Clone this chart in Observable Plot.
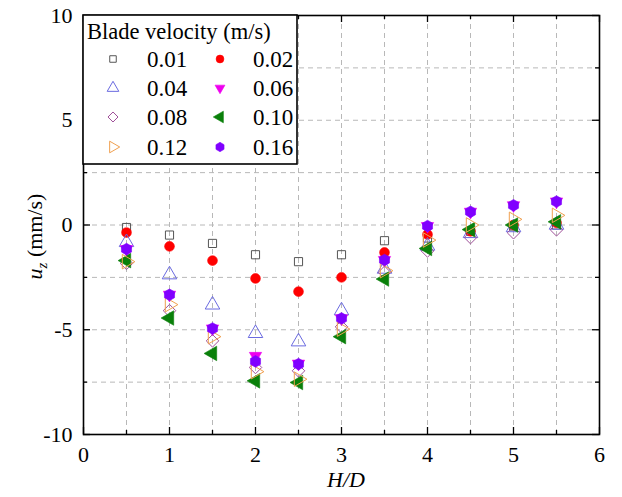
<!DOCTYPE html>
<html>
<head>
<meta charset="utf-8">
<script src="https://cdn.jsdelivr.net/npm/d3@7"></script>
<script src="https://cdn.jsdelivr.net/npm/@observablehq/plot@0.6"></script>
<style>
  body { margin: 0; background: white; }
  #wrap { position: relative; width: 622px; height: 497px; }
  #wrap svg { display: block; }
  #wrap svg text { font-family: "Liberation Serif", "Times New Roman", "DejaVu Serif", serif; }
</style>
</head>
<body>
<div id="wrap"></div>
<script>
// ---- data ----
const hd = [0.5, 1, 1.5, 2, 2.5, 3, 3.5, 4, 4.5, 5, 5.5];
const seriesNames = ["0.01", "0.02", "0.04", "0.06", "0.08", "0.10", "0.12", "0.16"];
const v001 = [-0.12, -0.48, -0.88, -1.42, -1.75, -1.42, -0.75, -0.62, -0.30, -0.05, 0.00];
const v002 = [-0.36, -1.02, -1.70, -2.55, -3.18, -2.50, -1.31, -0.45, -0.30, 0.00, 0.10];
const v004 = [-0.83, -2.37, -3.81, -5.17, -5.57, -4.09, -2.10, -1.00, -0.40, -0.12, 0.00];
const v006 = [-1.15, -3.33, -4.94, -6.25, -6.62, -4.46, -1.67, -0.05, 0.63, 0.94, 1.12];
const v008 = [-1.83, -4.09, -5.53, -6.80, -6.96, -4.86, -2.26, -1.24, -0.60, -0.37, -0.23];
const v010 = [-1.70, -4.44, -6.13, -7.44, -7.52, -5.33, -2.58, -1.12, -0.22, 0.00, 0.15];
const v012 = [-1.75, -3.80, -5.33, -7.00, -7.36, -4.97, -2.18, -0.72, 0.00, 0.27, 0.46];
const v016 = [-1.15, -3.33, -4.94, -6.51, -6.64, -4.46, -1.67, -0.05, 0.63, 0.94, 1.12];
const xTicks = [0, 1, 2, 3, 4, 5, 6];
const yTicks = [-10, -5, 0, 5, 10];
const xGrid = [0.5, 1, 1.5, 2, 2.5, 3, 3.5, 4, 4.5, 5, 5.5];
const yGrid = [-7.5, -5, -2.5, 0, 2.5, 5, 7.5];
const xMinor = [0.5, 1.5, 2.5, 3.5, 4.5, 5.5];
const yMinor = [-7.5, -2.5, 2.5, 7.5];

// ---- custom symbols ----
const sqrt3 = Math.sqrt(3);
const triDown = { draw(c, size) { const y = -Math.sqrt(size / (sqrt3 * 3)); c.moveTo(0, -2 * y); c.lineTo(sqrt3 * y, y); c.lineTo(-sqrt3 * y, y); c.closePath(); } };
const triLeft = { draw(c, size) { const y = -Math.sqrt(size / (sqrt3 * 3)); c.moveTo(2 * y, 0); c.lineTo(-y, sqrt3 * y); c.lineTo(-y, -sqrt3 * y); c.closePath(); } };
const triRight = { draw(c, size) { const y = -Math.sqrt(size / (sqrt3 * 3)); c.moveTo(-2 * y, 0); c.lineTo(y, sqrt3 * y); c.lineTo(y, -sqrt3 * y); c.closePath(); } };
const hexPointy = { draw(c, size) { const rr = Math.sqrt(size / (1.5 * sqrt3)); for (let k = 0; k < 6; k++) { const a = Math.PI / 3 * k; const px = rr * Math.sin(a), py = -rr * Math.cos(a); if (k === 0) c.moveTo(px, py); else c.lineTo(px, py); } c.closePath(); } };
const diamondSq = { draw(c, size) { const h = Math.sqrt(size / 2); c.moveTo(0, -h); c.lineTo(h, 0); c.lineTo(0, h); c.lineTo(-h, 0); c.closePath(); } };
const squareSym = { draw(c, size) { const h = Math.sqrt(size) / 2; c.rect(-h, -h, 2 * h, 2 * h); } };
const circleSym = { draw(c, size) { const rr = Math.sqrt(size / Math.PI); c.moveTo(rr, 0); c.arc(0, 0, rr, 0, 2 * Math.PI); } };
const triUp = { draw(c, size) { const y = -Math.sqrt(size / (sqrt3 * 3)); c.moveTo(0, 2 * y); c.lineTo(-sqrt3 * y, -y); c.lineTo(sqrt3 * y, -y); c.closePath(); } };

const styles = [
  { vals: v001, symbol: squareSym, color: "#555555", filled: false, r: 4.6 },
  { vals: v002, symbol: circleSym, color: "#ff0000", filled: true, r: 4.9 },
  { vals: v004, symbol: triUp, color: "#6a6ae0", filled: false, r: 5.4 },
  { vals: v006, symbol: triDown, color: "#ee00ee", filled: true, r: 4.6 },
  { vals: v008, symbol: diamondSq, color: "#a0509a", filled: false, r: 5.0 },
  { vals: v010, symbol: triLeft, color: "#0a800a", filled: true, r: 5.4 },
  { vals: v012, symbol: triRight, color: "#f0a050", filled: false, r: 5.4 },
  { vals: v016, symbol: hexPointy, color: "#8000ff", filled: true, r: 5.3 }
];

const dotMarks = styles.map((s, i) => Plot.dot(
  hd.map((x, j) => ({ x, y: s.vals[j], series: seriesNames[i] })),
  { x: "x", y: "y", symbol: () => s.symbol, r: s.r,
    fill: s.filled ? s.color : "white", fillOpacity: s.filled ? 1 : 0,
    stroke: s.color, strokeWidth: s.filled ? 0.6 : 1 }
));

const W = 622, H = 497, mL = 83, mR = 23, mT = 15, mB = 63;
const innerH = H - mT - mB, innerW = W - mL - mR;
const serif = "'Liberation Serif', 'Times New Roman', 'DejaVu Serif', serif";

const plot = Plot.plot({
  width: W, height: H,
  marginLeft: mL, marginRight: mR, marginTop: mT, marginBottom: mB,
  style: { fontFamily: serif, fontSize: "22px", color: "black", background: "white", overflow: "visible" },
  x: { domain: [0, 6], label: null },
  y: { domain: [-10, 10], label: null },
  marks: [
    Plot.ruleX(xGrid, { x: d => d, stroke: "#b8b8b8", strokeDasharray: "5,4", strokeWidth: 1 }),
    Plot.ruleY(yGrid, { y: d => d, stroke: "#b8b8b8", strokeDasharray: "5,4", strokeWidth: 1 }),
    Plot.axisX(xTicks, { tickSize: 0, tickPadding: 12, tickFormat: d => String(d), fontSize: 22 }),
    Plot.axisY(yTicks, { tickSize: 0, tickPadding: 11, tickFormat: d => String(d), fontSize: 22 }),
    // major ticks (inward) bottom/top/left/right
    Plot.tickX(xTicks, { x: d => d, insetTop: innerH - 7, stroke: "black", strokeWidth: 1.3 }),
    Plot.tickX(xTicks, { x: d => d, insetBottom: innerH - 7, stroke: "black", strokeWidth: 1.3 }),
    Plot.tickY(yTicks, { y: d => d, insetRight: innerW - 7, stroke: "black", strokeWidth: 1.3 }),
    Plot.tickY(yTicks, { y: d => d, insetLeft: innerW - 7, stroke: "black", strokeWidth: 1.3 }),
    // minor ticks
    Plot.tickX(xMinor, { x: d => d, insetTop: innerH - 4, stroke: "black", strokeWidth: 1.3 }),
    Plot.tickX(xMinor, { x: d => d, insetBottom: innerH - 4, stroke: "black", strokeWidth: 1.3 }),
    Plot.tickY(yMinor, { y: d => d, insetRight: innerW - 4, stroke: "black", strokeWidth: 1.3 }),
    Plot.tickY(yMinor, { y: d => d, insetLeft: innerW - 4, stroke: "black", strokeWidth: 1.3 }),
    ...dotMarks,
    Plot.frame({ stroke: "black", strokeWidth: 1.6 })
  ]
});

const wrap = document.getElementById("wrap");
wrap.appendChild(plot);

// axis titles with italics / subscript
const svg = d3.select(plot);
svg.append("text")
  .attr("x", mL + innerW / 2 + 5).attr("y", 487)
  .attr("text-anchor", "middle")
  .style("font-family", serif).style("font-size", "22px")
  .attr("font-style", "italic")
  .text("H/D");
const yl = svg.append("text")
  .attr("transform", `translate(42, ${mT + innerH / 2 + 12}) rotate(-90)`)
  .attr("text-anchor", "middle")
  .style("font-family", serif).style("font-size", "22px");
yl.append("tspan").attr("font-style", "italic").text("u");
yl.append("tspan").attr("font-style", "italic").style("font-size", "15px").attr("dy", 5).text("z");
yl.append("tspan").attr("dy", -5).text(" (mm/s)");

// legend box inside plot (top-left)
const lg = svg.append("g").attr("transform", `translate(${mL}, ${mT})`).attr("text-anchor", "start");
lg.append("rect").attr("x", 0).attr("y", 0).attr("width", 214).attr("height", 149)
  .attr("fill", "white").attr("stroke", "black").attr("stroke-width", 1.6);
lg.append("text").attr("x", 4).attr("y", 24).attr("text-anchor", "start")
  .style("font-family", serif).style("font-size", "22.5px")
  .text("Blade velocity (m/s)");
const rowY = [44, 73, 102, 132];
styles.forEach((s, i) => {
  const row = Math.floor(i / 2), col = i % 2;
  const mx = col === 0 ? 30 : 137, tx = col === 0 ? 64 : 170;
  const rr = s.r * 0.8;
  lg.append("path")
    .attr("transform", `translate(${mx}, ${rowY[row]})`)
    .attr("d", d3.symbol(s.symbol, Math.PI * rr * rr)())
    .attr("fill", s.filled ? s.color : "none")
    .attr("stroke", s.color).attr("stroke-width", s.filled ? 0.6 : 1);
  lg.append("text").attr("x", tx).attr("y", rowY[row] + 8).attr("text-anchor", "start")
    .style("font-family", serif).style("font-size", "23px")
    .text(seriesNames[i]);
});
</script>
</body>
</html>
